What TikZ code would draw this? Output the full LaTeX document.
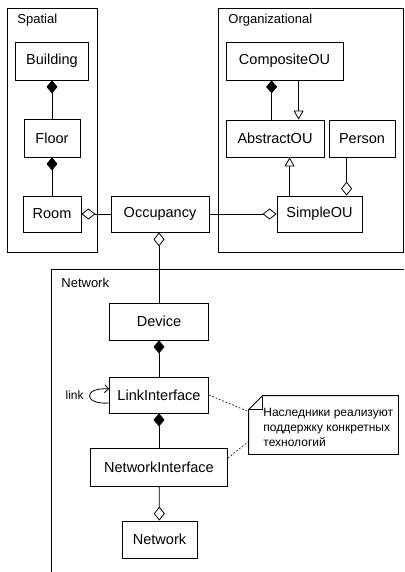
\documentclass[tikz,border=0pt]{standalone}
\usepackage{fontspec}
\setmainfont{Liberation Sans}
\usetikzlibrary{arrows.meta}
\begin{document}
\begin{tikzpicture}[x=1pt,y=-1pt,
  line width=0.8pt,
  box/.style={draw, inner sep=0pt, font=\fontsize{14.5}{17}\selectfont},
  pkg/.style={draw},
  pkglabel/.style={anchor=west, inner sep=0pt, font=\fontsize{13}{15}\selectfont},
  comp/.style={-{Diamond[length=13pt,width=11pt]}},
  aggr/.style={-{Diamond[open,length=14pt,width=11pt,fill=white]}},
  gen/.style={-{Triangle[open,length=9pt,width=10pt,fill=white]}},
  notelink/.style={line width=0.6pt, dash pattern=on 1.8pt off 1.8pt},
]
\useasboundingbox (0,0) rectangle (404,572);
\fill[white] (0,0) rectangle (404,572);

% package frames
\draw[pkg] (7,8) rectangle (97,252);
\node[pkglabel] (lspatial) at (17,20) {Spatial};
\draw[pkg] (218,8) rectangle (403,252);
\node[pkglabel] (lorg) at (228,20) {Organizational};
\draw[pkg] (51,572) -- (51,269) -- (404,269);
\node[pkglabel] (lnet) at (61,283) {Network};

% Spatial
\node[box, minimum width=73pt, minimum height=38pt] (building) at (52,61) {Building};
\node[box, minimum width=56pt, minimum height=38pt] (floor) at (52,138) {Floor};
\node[box, minimum width=58pt, minimum height=36pt] (room) at (52,214) {Room};

% Occupancy
\node[box, minimum width=98pt, minimum height=36pt] (occ) at (160,214) {Occupancy};

% Organizational
\node[box, minimum width=117pt, minimum height=38pt] (composite) at (284.5,61) {CompositeOU};
\node[box, minimum width=98pt, minimum height=37pt] (abstract) at (275,138.5) {AbstractOU};
\node[box, minimum width=66pt, minimum height=37pt] (person) at (362,138.5) {Person};
\node[box, minimum width=85pt, minimum height=36pt] (simple) at (319.5,214) {SimpleOU};

% Network
\node[box, minimum width=99pt, minimum height=37pt] (device) at (159,321.5) {Device};
\node[box, minimum width=99pt, minimum height=36pt] (link) at (159,395) {LinkInterface};
\node[box, minimum width=137pt, minimum height=38pt] (netif) at (159,467) {NetworkInterface};
\node[box, minimum width=75pt, minimum height=37pt] (network) at (159.5,539.5) {Network};

% note
\node[inner sep=0pt, minimum width=149pt, minimum height=58pt] (note) at (323.5,425) {};
\draw ([xshift=14pt]note.north west) -- (note.north east) -- (note.south east)
  -- (note.south west) -- ([yshift=-14pt]note.north west) -- cycle;
\draw ([xshift=14pt]note.north west) |- ([yshift=-14pt]note.north west);
\node[anchor=west, inner sep=0pt, align=left, font=\fontsize{12}{15}\selectfont] (notetext) at (263,427)
  {Наследники реализуют\\поддержку конкретных\\технологий};

% Spatial connectors
\draw[comp] (floor) -- (building);
\draw[comp] (room) -- (floor);
\draw[aggr] (occ) -- (room);

% Organizational connectors
\draw[comp] ([xshift=46pt]abstract.north west) -- ([xshift=46pt]composite.south west);
\draw[gen] ([xshift=73pt]composite.south west) -- ([xshift=73pt]abstract.north west);
\draw[gen] ([xshift=13pt]simple.north west) -- ([xshift=64pt]abstract.south west);
\draw[aggr] ([xshift=18pt]person.south west) -- ([xshift=70pt]simple.north west);
\draw[aggr] (occ) -- (simple);

% Network connectors
\draw[aggr] (device.north) -- (device.north |- occ.south);
\draw[comp] (link) -- (device);
\draw[comp] (netif) -- (link);
\draw[aggr] (netif) -- (network);

% self loop
\draw[-{Straight Barb[length=4pt,width=8pt]}] ([yshift=-8pt]link.west)
  .. controls +(-26,2) and +(-26,-2) .. ([yshift=6pt]link.west);
\node[anchor=east, inner sep=0pt, font=\fontsize{12}{14}\selectfont] (linklabel) at (84,395.5) {link};

% note links
\draw[notelink] (link.east) -- ([yshift=-16pt]note.north west);
\draw[notelink] ([yshift=9pt]netif.east) -- ([yshift=13pt]note.south west);
\end{tikzpicture}
\end{document}
